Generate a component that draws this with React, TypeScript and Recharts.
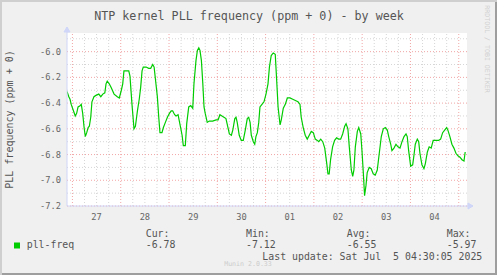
import React from 'react';
import { LineChart, Line, XAxis, YAxis, CartesianGrid, ReferenceLine } from 'recharts';

// hours since Jun 27 00:00
const hours = [
  -2.7, -1.8, -1.2, -0.6, 0.5, 1.4, 2.1, 2.8, 3.8, 4.4, 5.1, 5.8, 6.4, 7.1, 7.8, 8.4, 9.1, 9.7, 10.7, 11.7,
  13.1, 14.1, 15.1, 16.1, 16.7, 17.3, 18.3, 19.3, 20.7, 22.3, 23.3, 24.3, 25.0, 25.6, 27.0, 28.0, 28.6, 29.6, 30.6, 31.3,
  32.3, 33.2, 33.9, 34.6, 35.2, 36.6, 37.9, 38.9, 39.9, 40.6, 41.5, 42.2, 42.9, 43.5, 44.5, 45.2, 46.2, 47.2, 48.2, 49.1,
  49.8, 50.8, 51.5, 52.5, 53.5, 54.5, 55.1, 56.1, 56.8, 57.8, 58.8, 59.8, 60.4, 61.4, 62.1, 62.8, 63.4, 64.1, 64.8, 65.4,
  66.0, 67.0, 68.0, 69.7, 71.4, 72.4, 73.3, 74.3, 75.3, 76.3, 77.3, 78.0, 79.0, 79.7, 80.7, 81.3, 81.9, 82.9, 83.9, 84.9,
  85.9, 86.9, 87.6, 88.3, 88.9, 89.9, 90.6, 91.2, 91.9, 92.6, 93.2, 94.2, 95.2, 96.2, 97.2, 97.9, 98.8, 99.8, 100.8, 101.5,
  102.2, 103.2, 103.8, 104.8, 105.8, 106.8, 108.1, 109.5, 110.8, 112.1, 113.1, 113.7, 114.7, 115.7, 116.7, 117.7, 118.7, 119.7, 120.7, 121.7,
  122.4, 123.4, 124.4, 125.4, 126.4, 127.0, 127.6, 128.3, 129.3, 130.3, 131.3, 132.3, 133.3, 134.3, 135.3, 136.0, 136.9, 137.6, 138.6, 139.3,
  139.9, 140.6, 141.6, 142.3, 143.3, 143.9, 144.6, 145.2, 145.9, 146.5, 147.5, 148.5, 149.5, 150.5, 151.5, 152.5, 153.5, 154.5, 155.5, 156.5,
  157.2, 158.2, 158.8, 159.8, 160.8, 161.8, 162.8, 163.8, 164.8, 165.8, 166.4, 167.1, 168.1, 169.1, 169.7, 170.4, 171.4, 172.1, 172.7, 173.7,
  174.7, 175.4, 176.4, 177.3, 178.3, 179.3, 180.7, 182.0, 183.0, 184.0, 185.0, 186.0, 186.6, 187.6, 188.6, 189.6, 190.6, 191.6, 192.6, 193.6,
  194.6, 195.2,
];

const pllFreq = [
  -6.31, -6.35, -6.37, -6.41, -6.46, -6.50, -6.48, -6.43, -6.42, -6.41, -6.48, -6.59, -6.66, -6.63, -6.59, -6.58, -6.51, -6.39, -6.35, -6.34,
  -6.33, -6.35, -6.33, -6.32, -6.25, -6.23, -6.25, -6.28, -6.33, -6.35, -6.36, -6.30, -6.25, -6.15, -6.15, -6.15, -6.19, -6.41, -6.60, -6.58,
  -6.46, -6.37, -6.28, -6.15, -6.12, -6.12, -6.13, -6.13, -6.10, -6.12, -6.25, -6.35, -6.51, -6.63, -6.63, -6.59, -6.55, -6.51, -6.48, -6.46,
  -6.46, -6.49, -6.50, -6.49, -6.57, -6.65, -6.73, -6.73, -6.56, -6.43, -6.42, -6.44, -6.25, -6.07, -5.99, -5.97, -5.99, -6.07, -6.25, -6.43,
  -6.48, -6.55, -6.54, -6.54, -6.53, -6.53, -6.49, -6.50, -6.51, -6.52, -6.59, -6.64, -6.65, -6.61, -6.52, -6.51, -6.55, -6.65, -6.69, -6.69,
  -6.61, -6.52, -6.51, -6.55, -6.65, -6.70, -6.72, -6.66, -6.63, -6.55, -6.43, -6.41, -6.39, -6.33, -6.25, -6.12, -6.03, -6.01, -6.02, -6.22,
  -6.43, -6.57, -6.53, -6.44, -6.41, -6.36, -6.36, -6.37, -6.38, -6.39, -6.41, -6.51, -6.59, -6.65, -6.68, -6.65, -6.62, -6.63, -6.68, -6.69,
  -6.70, -6.68, -6.70, -6.75, -6.87, -6.95, -6.95, -6.84, -6.74, -6.69, -6.67, -6.68, -6.68, -6.64, -6.58, -6.56, -6.60, -6.74, -6.92, -6.97,
  -6.92, -6.74, -6.62, -6.59, -6.64, -6.77, -6.95, -7.12, -7.04, -6.94, -6.90, -6.91, -6.95, -6.96, -6.92, -6.79, -6.66, -6.60, -6.59, -6.61,
  -6.66, -6.72, -6.77, -6.75, -6.72, -6.74, -6.75, -6.70, -6.66, -6.64, -6.66, -6.77, -6.89, -6.88, -6.81, -6.72, -6.68, -6.70, -6.79, -6.88,
  -6.91, -6.87, -6.78, -6.74, -6.75, -6.69, -6.69, -6.69, -6.68, -6.63, -6.61, -6.59, -6.61, -6.66, -6.72, -6.75, -6.79, -6.81, -6.82, -6.84,
  -6.85, -6.78,
];

const dayTicks = [12, 36, 60, 84, 108, 132, 156, 180];
const dayLabels = ['27', '28', '29', '30', '01', '02', '03', '04'];
const midnights = [0, 24, 48, 72, 96, 120, 144, 168, 192];
const sixHours = [6, 12, 18, 30, 36, 42, 54, 60, 66, 78, 84, 90, 102, 108, 114, 126, 132, 138, 150, 156, 162, 174, 180, 186];
const yTicks = [-7.2, -7.0, -6.8, -6.6, -6.4, -6.2, -6.0];
const yMinor = [-7.1, -6.9, -6.7, -6.5, -6.3, -6.1, -5.9];

const legendStats = [
  { label: 'Cur:', value: '-6.78', x: 145.7 },
  { label: 'Min:', value: '-7.12', x: 246 },
  { label: 'Avg:', value: '-6.55', x: 346.7 },
  { label: 'Max:', value: '-5.97', x: 446.7 },
];

const data = hours.map((h, i) => ({ h, v: pllFreq[i] }));

const MONO = '"DejaVu Sans Mono", monospace';
const AXIS = '#cfd6f8';
const MINOR = '#d6d6d6';
const MAJOR = '#f2a6a6';

export default function App() {
  return (
    <div
      style={{
        position: 'absolute',
        left: 0,
        top: 0,
        width: 497,
        height: 275,
        background: '#f0f0f0',
        boxShadow: 'inset 2px 2px 0 #cfcfcf, inset -2px -2px 0 #9e9e9e',
        fontFamily: MONO,
      }}
    >
      <LineChart width={497} height={275} data={data} margin={{ top: 33, right: 30, bottom: 49, left: 27 }}>
        <CartesianGrid horizontal={false} vertical={false} fill="#ffffff" fillOpacity={1} />
        {sixHours.map((h) => (
          <ReferenceLine key={'m' + h} x={h} stroke={MINOR} strokeDasharray="1 2" />
        ))}
        {yMinor.map((v) => (
          <ReferenceLine key={'n' + v} y={v} stroke={MINOR} strokeDasharray="1 2" />
        ))}
        {midnights.map((h) => (
          <ReferenceLine key={'d' + h} x={h} stroke={MAJOR} strokeDasharray="1 2" />
        ))}
        {yTicks.map((v) => (
          <ReferenceLine key={'y' + v} y={v} stroke={MAJOR} strokeDasharray="1 2" />
        ))}
        <XAxis
          dataKey="h"
          type="number"
          domain={[-2.7, 196.1]}
          ticks={dayTicks}
          tickFormatter={(h) => dayLabels[dayTicks.indexOf(h)]}
          tickLine={false}
          tickSize={0}
          tickMargin={8}
          axisLine={{ stroke: AXIS }}
          tick={{ fontSize: 8.7, fill: '#666', fontFamily: MONO }}
          height={20}
          allowDataOverflow
        />
        <YAxis
          type="number"
          domain={[-7.2, -5.855]}
          ticks={yTicks}
          tickFormatter={(v) => v.toFixed(1)}
          tickLine={false}
          tickSize={0}
          tickMargin={6}
          axisLine={{ stroke: AXIS }}
          tick={{ fontSize: 8.7, fill: '#666', fontFamily: MONO }}
          width={40}
          allowDataOverflow
        />
        <Line
          type="linear"
          dataKey="v"
          stroke="#00cc00"
          strokeWidth={1.2}
          dot={false}
          isAnimationActive={false}
        />
      </LineChart>

      <svg
        width={497}
        height={275}
        style={{ position: 'absolute', left: 0, top: 0, pointerEvents: 'none' }}
        fontFamily={MONO}
      >
        {/* axis arrows */}
        <path d="M467,206 L473,206 M468,203 L473,206 L468,209 Z" stroke={AXIS} fill={AXIS} />
        <path d="M67,33 L67,27 M64,32 L67,27 L70,32 Z" stroke={AXIS} fill={AXIS} />

        <text x={249} y={20} textAnchor="middle" fontSize={11.7} fill="#555">
          NTP kernel PLL frequency (ppm + 0) - by week
        </text>
        <text transform="translate(13,119.5) rotate(-90)" textAnchor="middle" fontSize={10} fill="#555">
          PLL frequency (ppm + 0)
        </text>
        <text transform="translate(484.5,49) rotate(90)" textAnchor="middle" fontSize={6.6} fill="#d0d0d0">
          RRDTOOL / TOBI OETIKER
        </text>

        <rect x={14} y={242.5} width={6} height={6} fill="#00cc00" />
        <text x={26.7} y={248} fontSize={9.9} fill="#555">
          pll-freq
        </text>
        {legendStats.map((s) => (
          <g key={s.label}>
            <text x={s.x} y={237} fontSize={9.9} fill="#555">
              {s.label}
            </text>
            <text x={s.x} y={248} fontSize={9.9} fill="#555">
              {s.value}
            </text>
          </g>
        ))}
        <text x={482.3} y={260} textAnchor="end" fontSize={9.9} fill="#555" style={{ whiteSpace: 'pre' }}>
          {'Last update: Sat Jul  5 04:30:05 2025'}
        </text>
        <text x={248} y={265.5} textAnchor="middle" fontSize={6.6} fill="#cccccc">
          Munin 2.0.33
        </text>
      </svg>
    </div>
  );
}
